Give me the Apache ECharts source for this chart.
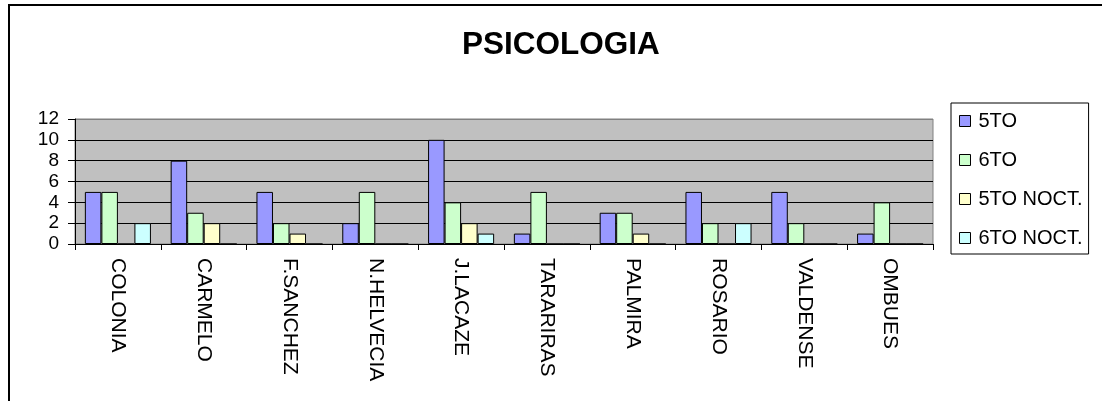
<!DOCTYPE html>
<html>
<head>
<meta charset="utf-8">
<script src="https://cdn.jsdelivr.net/npm/echarts@6/dist/echarts.min.js"></script>
<style>
html,body{margin:0;padding:0;background:#fff;}
#chart{width:1102px;height:401px;}
</style>
</head>
<body>
<div id="chart"></div>
<script>
const categories = ['COLONIA','CARMELO','F.SANCHEZ','N.HELVECIA','J.LACAZE','TARARIRAS','PALMIRA','ROSARIO','VALDENSE','OMBUES'];
const seriesNames = ['5TO','6TO','5TO NOCT.','6TO NOCT.'];
const quinto      = [5, 8, 5, 2, 10, 1, 3, 5, 5, 1];
const sexto       = [5, 3, 2, 5, 4, 5, 3, 2, 2, 4];
const quintoNoct  = [0, 2, 1, 0, 2, 0, 1, 0, 0, 0];
const sextoNoct   = [2, 0, 0, 0, 1, 0, 0, 2, 0, 0];
const seriesData = [quinto, sexto, quintoNoct, sextoNoct];
const colors = ['#9999FF','#CCFFCC','#FFFFCC','#CCFFFF'];
const font = 'Liberation Sans, Arial, sans-serif';

const chart = echarts.init(document.getElementById('chart'), null, {renderer:'canvas'});
chart.setOption({
  animation: false,
  backgroundColor: '#fff',
  title: {
    text: 'PSICOLOGIA',
    left: 457, top: 24,
    textStyle: {fontFamily: font, fontSize: 31.5, fontWeight: 'bold', color: '#000'}
  },
  graphic: [{
    type: 'rect', z: -1,
    shape: {x: 9, y: 5, width: 1200, height: 500},
    style: {fill: 'none', stroke: '#000', lineWidth: 2}
  }],
  legend: {
    orient: 'vertical',
    left: 951, top: 103,
    data: seriesNames,
    icon: 'rect',
    itemWidth: 11, itemHeight: 11,
    itemGap: 19,
    padding: [8, 6, 6, 8],
    borderColor: '#000', borderWidth: 1,
    itemStyle: {borderColor: '#000', borderWidth: 1},
    textStyle: {fontFamily: font, fontSize: 20, color: '#000', padding: [0,0,0,3]}
  },
  grid: {
    left: 75, right: 169, top: 119, bottom: 157,
    show: true, backgroundColor: '#C0C0C0', borderColor: '#808080', borderWidth: 1,
    containLabel: false
  },
  xAxis: {
    type: 'category',
    data: categories,
    axisLine: {lineStyle: {color: '#000', width: 1}},
    axisTick: {show: true, length: 6, lineStyle: {color: '#000'}},
    axisLabel: {rotate: -90, margin: 14, fontFamily: font, fontSize: 21, color: '#000'}
  },
  yAxis: {
    type: 'value', min: 0, max: 12, interval: 2,
    axisLine: {show: true, lineStyle: {color: '#000', width: 1}},
    axisTick: {show: true, length: 7, lineStyle: {color: '#000'}},
    axisLabel: {margin: 16, fontFamily: font, fontSize: 19, color: '#000'},
    splitLine: {show: true, lineStyle: {color: ['#000','#000','#000','#000','#000','#000','#808080'], width: 1}}
  },
  series: seriesNames.map((name, i) => ({
    name: name,
    type: 'bar',
    data: seriesData[i],
    barGap: '0%',
    barCategoryGap: '23%',
    itemStyle: {color: colors[i], borderColor: '#000', borderWidth: 1}
  }))
});
</script>
</body>
</html>
